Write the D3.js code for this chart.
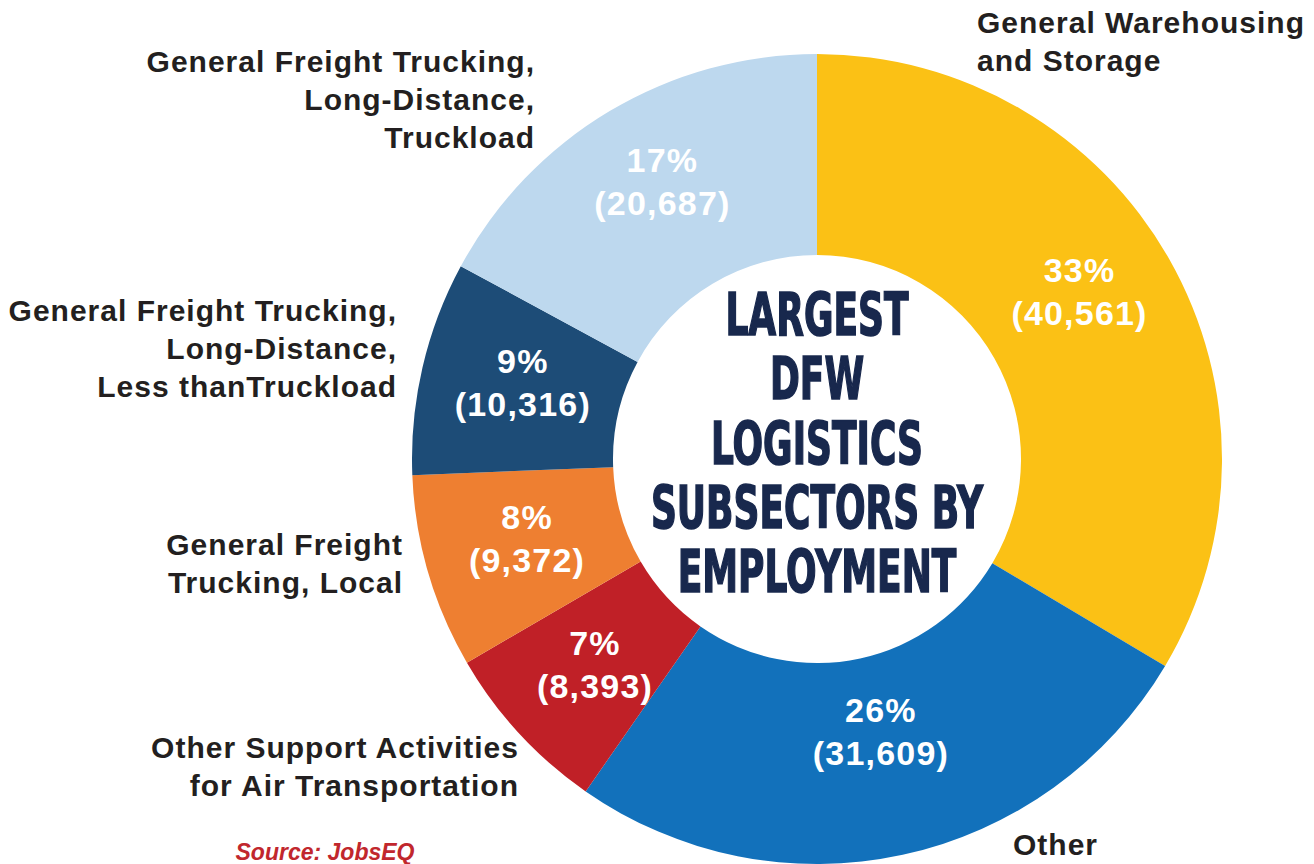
<!DOCTYPE html>
<html>
<head>
<meta charset="utf-8">
<script src="https://cdn.jsdelivr.net/npm/d3@7"></script>
<style>
  body { margin: 0; background: #fff; }
  svg { display: block; }
  .label { font-family: "Liberation Sans", Arial, sans-serif; font-weight: bold; fill: #231f20; }
  .slice-label { font-family: "Liberation Sans", Arial, sans-serif; font-weight: bold; fill: #fff; }
  .center-text { font-family: "DejaVu Sans Condensed", "DejaVu Sans", sans-serif; font-weight: bold; fill: #18284d; stroke: #18284d; stroke-width: 1.6px; }
</style>
</head>
<body>
<div id="chart"></div>
<script>
// data, clockwise from 12 o'clock
var categories = [
  "General Warehousing and Storage",
  "Other",
  "Other Support Activities for Air Transportation",
  "General Freight Trucking, Local",
  "General Freight Trucking, Long-Distance, Less thanTruckload",
  "General Freight Trucking, Long-Distance, Truckload"
];
var employment = [40561, 31609, 8393, 9372, 10316, 20687];
var percentLabels = ["33%", "26%", "7%", "8%", "9%", "17%"];
var sliceColors = ["#fbc115", "#1271bb", "#c02027", "#ee7f31", "#1d4c77", "#bdd8ee"];

// outside label lines (as broken in the original)
var labelLines = [
  ["General Warehousing", "and Storage"],
  ["Other"],
  ["Other Support Activities", "for Air Transportation"],
  ["General Freight", "Trucking, Local"],
  ["General Freight Trucking,", "Long-Distance,", "Less thanTruckload"],
  ["General Freight Trucking,", "Long-Distance,", "Truckload"]
];
var titleLines = ["LARGEST", "DFW", "LOGISTICS", "SUBSECTORS BY", "EMPLOYMENT"];

// layout of the outside labels: anchor point of the first baseline
var labelLayout = [
  {x: 977, y: 33, anchor: "start"},
  {x: 1013, y: 855, anchor: "start"},
  {x: 519, y: 758, anchor: "end"},
  {x: 403, y: 555, anchor: "end"},
  {x: 397, y: 321, anchor: "end"},
  {x: 535, y: 72, anchor: "end"}
];
// small vertical nudges of the in-slice labels (hand placed in the original)
var labelNudge = [-19, -23, 0, -5, -9, -19];

var svgWidth = 1314;
var svgHeight = 864;
var cx = 817, cy = 459;
var outerR = 405, innerR = 204;

var svg = d3.select("#chart")
  .append("svg")
  .attr("width", svgWidth)
  .attr("height", svgHeight);

var pie = d3.pie().sort(null).value(d => d);
var arcs = pie(employment);

var arc = d3.arc().innerRadius(innerR).outerRadius(outerR);
var labelArc = d3.arc().innerRadius(302).outerRadius(302);

var chartGroup = svg.append("g")
  .attr("transform", `translate(${cx}, ${cy})`);

chartGroup.selectAll("path")
  .data(arcs)
  .enter()
  .append("path")
  .attr("d", arc)
  .attr("fill", (d, i) => sliceColors[i]);

var fmt = d3.format(",");

var sl = chartGroup.selectAll("text.slice-label")
  .data(arcs)
  .enter()
  .append("text")
  .attr("class", "slice-label")
  .attr("text-anchor", "middle")
  .style("font-size", "34px")
  .style("letter-spacing", "1.2px")
  .attr("transform", function(d, i) {
    var c = labelArc.centroid(d);
    return `translate(${c[0]}, ${c[1] + labelNudge[i]})`;
  });

sl.append("tspan")
  .attr("x", 0)
  .attr("y", -9)
  .text((d, i) => percentLabels[i]);

sl.append("tspan")
  .attr("x", 0)
  .attr("y", 34)
  .text(d => "(" + fmt(d.data) + ")");

// outside category labels
labelLines.forEach(function(lines, i) {
  var pos = labelLayout[i];
  var t = svg.append("text")
    .attr("class", "label")
    .attr("text-anchor", pos.anchor)
    .style("font-size", "30px")
    .style("letter-spacing", "1px");
  lines.forEach(function(line, j) {
    t.append("tspan")
      .attr("x", pos.x)
      .attr("y", pos.y + j * 38)
      .text(line);
  });
});

// center title, condensed
var title = svg.append("g")
  .attr("transform", `translate(${cx}, 0) scale(0.69, 1)`)
  .append("text")
  .attr("class", "center-text")
  .attr("text-anchor", "middle")
  .style("font-size", "58px");

titleLines.forEach(function(line, j) {
  title.append("tspan")
    .attr("x", 0)
    .attr("y", 335 + j * 64.3)
    .text(line);
});

svg.append("text")
  .attr("x", 325)
  .attr("y", 860)
  .attr("text-anchor", "middle")
  .style("font-family", "Liberation Sans, Arial, sans-serif")
  .style("font-weight", "bold")
  .style("font-style", "italic")
  .style("font-size", "23px")
  .style("fill", "#c1272d")
  .text("Source: JobsEQ");
</script>
</body>
</html>
